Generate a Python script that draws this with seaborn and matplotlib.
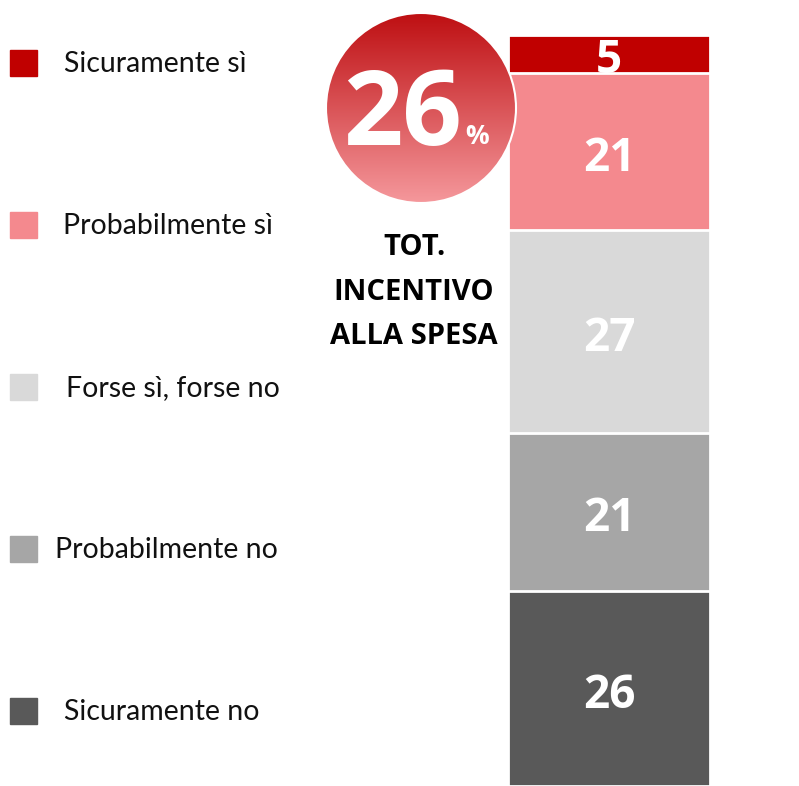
import numpy as np
import matplotlib
matplotlib.use("Agg")
import matplotlib.pyplot as plt
from matplotlib.colors import LinearSegmentedColormap
from matplotlib.patches import Circle, Rectangle
import seaborn as sns

# data (top to bottom as shown)
categories = ["Sicuramente sì", "Probabilmente sì", "Forse sì, forse no",
              "Probabilmente no", "Sicuramente no"]
values = [5, 21, 27, 21, 26]
colors = ["#C00000", "#F4898E", "#D9D9D9", "#A6A6A6", "#595959"]
total_label = "26"
total_text = "TOT.\nINCENTIVO\nALLA SPESA"

sns.set_theme(style="white")
plt.rcParams["font.family"] = ["Lato", "DejaVu Sans"]

W, H = 799, 786
fig = plt.figure(figsize=(W / 100, H / 100), dpi=100)

# stacked bar: draw cumulative totals from bottom segment upward, largest first
ax = fig.add_axes([508 / W, 0, 202 / W, (H - 35) / H])
order = list(range(len(values)))[::-1]   # bottom -> top
cum = np.cumsum([values[i] for i in order])
for k in range(len(order) - 1, -1, -1):
    sns.barplot(x=["tot"], y=[cum[k]], color=colors[order[k]], width=1,
                edgecolor="white", linewidth=2, saturation=1, ax=ax)
ax.set_xlim(-0.5, 0.5)
ax.set_ylim(0, 100)
ax.axis("off")
bottoms = np.concatenate([[0], cum[:-1]])
for k, i in enumerate(order):
    ax.text(0, bottoms[k] + values[i] / 2 - 0.9, str(values[i]), ha="center",
            va="center", color="white", fontsize=33, fontweight="bold",
            family=["Open Sans", "DejaVu Sans"], clip_on=False)

# overlay in pixel coordinates
ov = fig.add_axes([0, 0, 1, 1])
ov.set_xlim(0, W)
ov.set_ylim(H, 0)
ov.axis("off")

# legend
leg_y = [63, 225, 387, 549, 711]
leg_x = [64, 63, 66, 55, 64]
for cat, col, x, y in zip(categories, colors, leg_x, leg_y):
    ov.add_patch(Rectangle((10, y - 13), 27, 26, color=col))
    ov.text(x, y + 1, cat, ha="left", va="center", fontsize=20.5, color="#111111")

# gradient circle
cx, cy, r = 421, 108, 95
cmap = LinearSegmentedColormap.from_list("rg", ["#BE0F12", "#F5989C"])
grad = np.linspace(0, 1, 256).reshape(-1, 1)
im = ov.imshow(grad, cmap=cmap, aspect="auto",
               extent=[cx - r, cx + r, cy + r, cy - r], zorder=3)
circ = Circle((cx, cy), r, facecolor="none", edgecolor="white", lw=1.5, zorder=4)
ov.add_patch(circ)
im.set_clip_path(circ)
ov.text(402, 118, total_label, ha="center", va="center", color="white",
        fontsize=75, fontweight="bold", family=["Open Sans", "DejaVu Sans"], zorder=5)
ov.text(477, 136, "%", ha="center", va="center", color="white",
        fontsize=19, fontweight="bold", family=["Open Sans", "DejaVu Sans"], zorder=5)
ov.text(414, 292, total_text, ha="center", va="center", color="black",
        fontsize=21, fontweight="bold", linespacing=1.72,
        family=["Open Sans", "DejaVu Sans"], zorder=5)

fig.savefig("out.png", dpi=100)
